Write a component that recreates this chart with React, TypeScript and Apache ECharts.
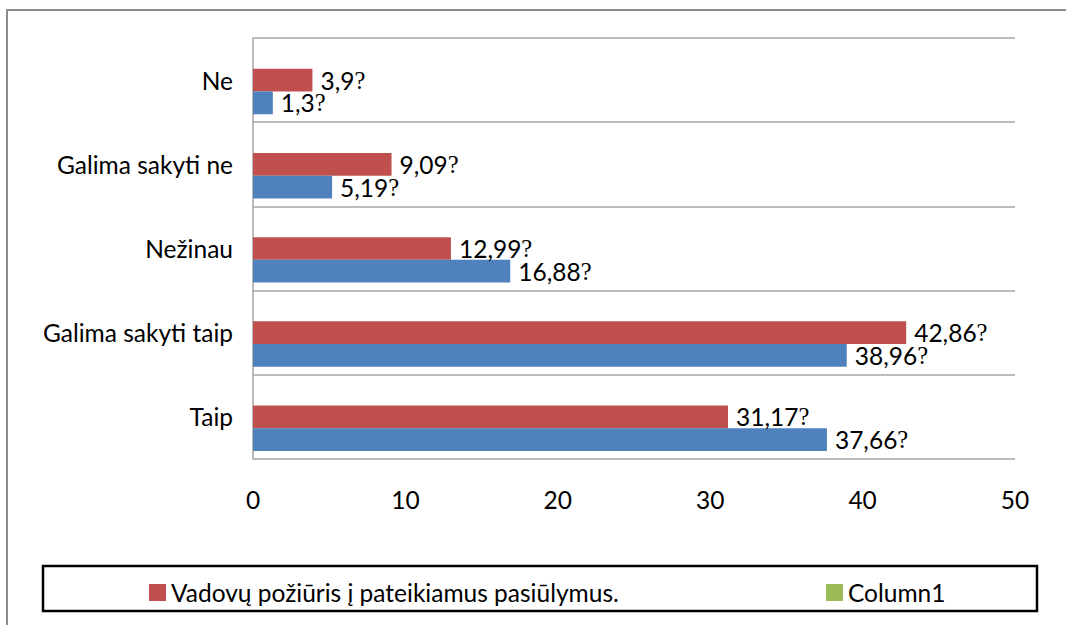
import React, { useEffect, useRef } from "react";
import * as echarts from "echarts";

const categories = ["Taip", "Galima sakyti taip", "Nežinau", "Galima sakyti ne", "Ne"];
const blueValues = [37.66, 38.96, 16.88, 5.19, 1.3];
const redValues = [31.17, 42.86, 12.99, 9.09, 3.9];
const greenValues: (number | null)[] = [null, null, null, null, null];
const redName = "Vadovų požiūris į pateikiamus pasiūlymus.";
const greenName = "Column1";
const blueName = "Series1";
const xTicks = [0, 10, 20, 30, 40, 50];

const FONT = "Lato";
const FS = 24.5;

const labelFmt = (p: any) =>
  p.value == null ? "" : `{v|${String(p.value).replace(".", ",")}}{q|?}`;

const labelCfg = {
  show: true,
  position: "right",
  distance: 8,
  formatter: labelFmt,
  rich: {
    v: { fontFamily: FONT, fontSize: FS, color: "#000" },
    q: { fontFamily: "Liberation Serif", fontSize: FS, color: "#000" },
  },
};

export default function App() {
  const ref = useRef<HTMLDivElement>(null);
  useEffect(() => {
    const chart = echarts.init(ref.current!, null, { renderer: "svg" });
    chart.setOption({
      animation: false,
      backgroundColor: "#fff",
      grid: { left: 253, right: 51, top: 38, bottom: 166, containLabel: false },
      xAxis: {
        type: "value",
        min: 0,
        max: 50,
        interval: 10,
        axisLine: { show: false },
        axisTick: { show: false },
        splitLine: { show: false },
        axisLabel: {
          fontFamily: FONT,
          fontSize: FS,
          color: "#000",
          margin: 28,
          formatter: (v: number) => (xTicks.includes(v) ? String(v) : ""),
        },
      },
      yAxis: {
        type: "category",
        data: categories,
        axisLine: { show: true, lineStyle: { color: "#a6a6a6", width: 1.5 } },
        axisTick: { show: false },
        splitLine: { show: true, lineStyle: { color: "#a6a6a6", width: 1.5 } },
        axisLabel: { fontFamily: FONT, fontSize: FS, color: "#000", margin: 20 },
      },
      legend: [
        {
          data: [redName],
          left: 144,
          top: 575,
          itemWidth: 17,
          itemHeight: 17,
          icon: "rect",
          textStyle: { fontFamily: FONT, fontSize: FS, color: "#000" },
        },
        {
          data: [greenName],
          left: 821,
          top: 575,
          itemWidth: 17,
          itemHeight: 17,
          icon: "rect",
          textStyle: { fontFamily: FONT, fontSize: FS, color: "#000" },
        },
      ],
      graphic: [
        {
          type: "rect",
          shape: { x: 7, y: 10, width: 1100, height: 700 },
          style: { fill: "none", stroke: "#8c8c8c", lineWidth: 2 },
          silent: true,
        },
        {
          type: "rect",
          shape: { x: 43, y: 566, width: 994, height: 45 },
          style: { fill: "none", stroke: "#000", lineWidth: 2.5 },
          silent: true,
        },
      ],
      series: [
        {
          name: greenName,
          type: "bar",
          data: greenValues,
          itemStyle: { color: "#9BBB59" },
          barGap: "0%",
          barCategoryGap: "19%",
          label: { show: false },
        },
        {
          name: redName,
          type: "bar",
          data: redValues,
          itemStyle: { color: "#C0504D" },
          barGap: "0%",
          barCategoryGap: "19%",
          label: labelCfg,
        },
        {
          name: blueName,
          type: "bar",
          data: blueValues,
          itemStyle: { color: "#4F81BD" },
          barGap: "0%",
          barCategoryGap: "19%",
          label: labelCfg,
        },
      ],
    });
    return () => chart.dispose();
  }, []);
  return (
    <div
      ref={ref}
      style={{ position: "fixed", left: 0, top: 0, width: 1066, height: 625, background: "#fff" }}
    />
  );
}
